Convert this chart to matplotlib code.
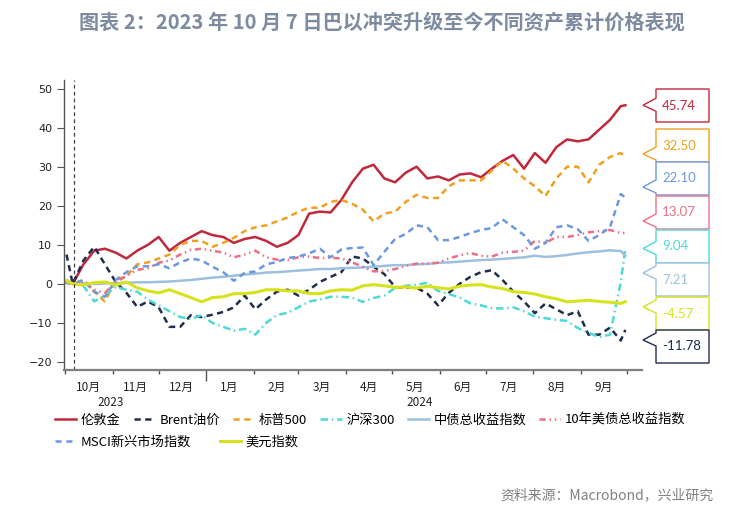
import matplotlib
matplotlib.use('Agg')
import matplotlib.pyplot as plt
import matplotlib.dates as mdates
from matplotlib.patches import Polygon
from matplotlib.transforms import IdentityTransform, blended_transform_factory
import pandas as pd

plt.rcParams['font.family'] = ['Noto Sans CJK SC', 'DejaVu Sans']

# weekly readings, cumulative % change since 2023-10-06
dates = pd.to_datetime([
    '2023-10-02', '2023-10-06', '2023-10-13', '2023-10-20', '2023-10-27',
    '2023-11-03', '2023-11-10', '2023-11-17', '2023-11-24',
    '2023-12-01', '2023-12-08', '2023-12-15', '2023-12-22', '2023-12-29',
    '2024-01-05', '2024-01-12', '2024-01-19', '2024-01-26',
    '2024-02-02', '2024-02-09', '2024-02-16', '2024-02-23',
    '2024-03-01', '2024-03-08', '2024-03-15', '2024-03-22', '2024-03-29',
    '2024-04-05', '2024-04-12', '2024-04-19', '2024-04-26',
    '2024-05-03', '2024-05-10', '2024-05-17', '2024-05-24', '2024-05-31',
    '2024-06-07', '2024-06-14', '2024-06-21', '2024-06-28',
    '2024-07-05', '2024-07-12', '2024-07-19', '2024-07-26',
    '2024-08-02', '2024-08-09', '2024-08-16', '2024-08-23', '2024-08-30',
    '2024-09-06', '2024-09-13', '2024-09-20', '2024-09-27', '2024-09-30'])

gold = [0.3, 0, 5, 8.5, 9, 8, 6.5, 8.5, 10, 12, 8.5, 10.5, 12, 13.5,
        12.5, 12, 10.5, 11.5, 12, 11, 9.5, 10.5, 12.5, 18, 18.5, 18.3, 21.5,
        26, 29.5, 30.5, 27, 26, 28.5, 30, 27, 27.5, 26.5, 28, 28.3, 27.3,
        29.5, 31.5, 33, 29.5, 33.5, 31, 35, 37, 36.5, 37, 39.5, 42, 45.5, 45.74]
brent = [7.5, 0, 6, 9.5, 5, 0.5, -2.3, -5.9, -4.5, -6, -11, -11, -8, -8.5,
         -7.9, -7.2, -6, -3, -6.5, -4, -2, -1.5, -3, -1.5, 0.5, 1.8, 3,
         7, 6.5, 4.4, 2.5, -0.8, -1, -1, -2.5, -5.5, -2.3, 0, 1.8, 3,
         3.5, 1, -2, -4.5, -7.5, -5, -6.5, -8, -7, -13, -13, -11.2, -14.5, -11.78]
spx = [1, 0, 1, -2, -4.5, 1, 2, 5, 5.5, 6.5, 7.5, 10, 11, 11,
       9.5, 10.5, 11.8, 13.5, 14.5, 15, 16, 17, 18.5, 19.5, 19.5, 21, 21.5,
       20.5, 19, 16, 18, 18.5, 21, 22.8, 22, 22, 25, 26.5, 26.5, 26.5,
       29, 31.5, 29.5, 27, 25, 22.5, 27, 30, 30, 26, 30.5, 32.5, 33.5, 32.50]
csi300 = [0.5, 0, -0.5, -4.5, -3, -0.8, -1.5, -2, -4, -5.5, -7, -8.5, -9, -8,
          -10, -11, -12, -11.5, -13, -10, -8, -7.4, -6, -4.5, -4, -3.3, -3.3,
          -3.5, -4.6, -3.6, -3, -1, -0.5, -0.2, 0.3, -1.8, -2.6, -3.5, -5, -5.5,
          -6.2, -6.3, -6, -7, -8.4, -8.8, -9.2, -9.5, -11.3, -12.5, -13.6, -13, 0.5, 9.04]
cgb = [0.2, 0, 0.1, 0, 0.1, 0.2, 0.3, 0.4, 0.4, 0.5, 0.6, 0.8, 1, 1.3,
       1.6, 1.8, 2.1, 2.4, 2.6, 2.9, 3, 3.2, 3.4, 3.6, 3.8, 3.8, 4,
       4.1, 4.2, 4.4, 4.6, 4.8, 4.8, 5, 5.1, 5.4, 5.5, 5.7, 5.9, 6.1,
       6.2, 6.4, 6.6, 6.8, 7.2, 6.9, 7.1, 7.4, 7.8, 8.1, 8.3, 8.6, 8.4, 7.21]
ust10 = [0.3, 0, 0.5, -1.5, -2.3, 0.5, 2, 3.6, 4, 5.4, 6, 7.5, 8.7, 9,
         8.5, 8, 6.8, 7.5, 8.5, 6.8, 6.2, 6.1, 6.8, 7, 6.6, 6.7, 6.5,
         5.5, 4.4, 3.2, 3.3, 3.8, 4.6, 5.2, 5.2, 5.4, 6.5, 7.3, 7.9, 7.2,
         7, 8, 8.2, 8.5, 11, 10.5, 12, 12, 12.5, 13.2, 13.5, 13.8, 13, 13.07]
msci = [0.5, 0, 1, -2, -3.3, 1, 3, 4.5, 4.5, 5, 4, 5.5, 6.5, 6,
        4.4, 3, 0.8, 2.8, 3.2, 5, 5.6, 6.6, 7, 7.8, 9, 6.8, 8.8,
        9.2, 9.3, 4.8, 8.2, 11.5, 12.8, 15, 14.5, 11.2, 11.2, 12, 13, 13.8,
        14.3, 16.5, 14.5, 12.5, 9, 10.5, 14.5, 15, 14, 11, 12.5, 14.5, 23, 22.10]
dxy = [0.8, 0, -0.3, 0.3, 0.5, -0.3, 0.5, -1, -1.8, -2.3, -1.5, -2.5, -3.5, -4.6,
       -3.5, -3.3, -2.5, -2.5, -2.2, -1.5, -1.5, -1.8, -1.8, -2.5, -2.5, -1.8, -1.5,
       -1.6, -0.5, -0.2, -0.5, -0.9, -0.8, -1.1, -0.6, -1, -1.3, -0.6, -0.3, -0.2,
       -0.8, -1.2, -2, -2.2, -2.6, -3.3, -3.8, -4.6, -4.4, -4.2, -4.5, -4.7, -5, -4.57]

names = ['伦敦金', 'Brent油价', '标普500', '沪深300', '中债总收益指数',
         '10年美债总收益指数', 'MSCI新兴市场指数', '美元指数']
series = [gold, brent, spx, csi300, cgb, ust10, msci, dxy]
colors = ['#C0283C', '#1F2D4F', '#F0A01E', '#4FD8D8', '#9DC0DF',
          '#EC6F86', '#6C98E0', '#D6E21C']
dash_styles = [None, (2.5, 1.8), (2.5, 1.8), (3, 1.5, 0.6, 1.5), None,
               (2.5, 1.5, 0.6, 1.5, 0.6, 1.5), (2.5, 1.8), None]
widths = [1.8, 1.8, 1.8, 1.8, 1.8, 1.8, 1.8, 2.2]

# right-hand value boxes, top to bottom
box_order = [0, 2, 6, 5, 3, 4, 7, 1]
box_tops = [89, 129, 162, 196, 230, 263, 297, 330]

W, H = 738, 513
fig = plt.figure(figsize=(W / 100, H / 100), dpi=100)
ax = fig.add_axes([64 / W, 1 - 370 / H, (642 - 64) / W, (370 - 80) / H])

lines = []
for s, name, c, d, lw in zip(series, names, colors, dash_styles, widths):
    ln, = ax.plot(dates, s, color=c, lw=lw, label=name)
    if d is not None:
        ln.set_dashes(d)
    lines.append(ln)

# vertical marker at 2023-10-07
ax.axvline(pd.Timestamp('2023-10-07'), color='#404040', lw=0.9, ls=(0, (3, 2.5)))

ax.set_ylim(-22.05, 52.2)
ax.set_xlim(pd.Timestamp('2023-09-30 08:00'), pd.Timestamp('2024-10-10 20:00'))
ax.set_yticks([-20, -10, 0, 10, 20, 30, 40, 50])
ax.tick_params(axis='y', direction='out', length=5, width=0.8, colors='#555555',
               labelcolor='#222222', labelsize=8)
for lbl in ax.get_yticklabels():
    lbl.set_family('DejaVu Sans')

for side in ['top', 'right']:
    ax.spines[side].set_visible(False)
ax.spines['left'].set_color('#555555')
ax.spines['left'].set_linewidth(1.0)
ax.spines['bottom'].set_color('#7f7f7f')
ax.spines['bottom'].set_linewidth(1.6)

# month boundaries as ticks, month names at mid-month
month_starts = pd.date_range('2023-10-01', '2024-10-01', freq='MS')
ax.set_xticks(month_starts)
ax.set_xticklabels([''] * len(month_starts))
mid = [m + pd.Timedelta(days=15) for m in month_starts[:-1]]
ax.set_xticks(mid, minor=True)
ax.set_xticklabels([f'{m.month}月' for m in month_starts[:-1]], minor=True)
ax.tick_params(axis='x', which='major', direction='out', length=3, width=1, colors='#555555')
ax.tick_params(axis='x', which='minor', length=0, labelsize=8.5, pad=8, labelcolor='#222222')
year_idx = list(month_starts).index(pd.Timestamp('2024-01-01'))
ax.xaxis.get_major_ticks()[year_idx].tick1line.set_markersize(8)

trans = blended_transform_factory(ax.transData, fig.transFigure)
ax.text(pd.Timestamp('2023-10-31'), 1 - 403 / H, '2023', transform=trans,
        ha='center', va='center', fontsize=8.5, color='#222222')
ax.text(pd.Timestamp('2024-05-19'), 1 - 403 / H, '2024', transform=trans,
        ha='center', va='center', fontsize=8.5, color='#222222')

# legend in two rows
leg_kw = dict(loc='upper left', bbox_transform=fig.transFigure, frameon=False,
              handlelength=1.6, handletextpad=0.35,
              borderaxespad=0, borderpad=0, fontsize=9.5)
leg1 = ax.legend(lines[:6], names[:6], ncol=6, columnspacing=1.0,
                 bbox_to_anchor=(55 / W, 1 - 414 / H), **leg_kw)
ax.add_artist(leg1)
ax.legend(lines[6:], names[6:], ncol=2, columnspacing=2.2,
          bbox_to_anchor=(55 / W, 1 - 436 / H), **leg_kw)

# value boxes with pointers
for i, top in zip(box_order, box_tops):
    bottom = top + 33
    last_y = ax.transData.transform((mdates.date2num(dates[-1]), series[i][-1]))[1]
    tip = min(max(H - last_y, top + 10), bottom - 8)
    pts = [(656, top), (709, top), (709, bottom), (656, bottom),
           (656, tip + 6), (643, tip), (656, tip - 7)]
    pts = [(x, H - y) for x, y in pts]
    fig.add_artist(Polygon(pts, closed=True, facecolor='white', edgecolor=colors[i],
                           lw=1.0, transform=IdentityTransform()))
    fig.text(662 / W, 1 - (top + 16.5) / H, f'{series[i][-1]:.2f}', color=colors[i],
             fontsize=9.5, family='Lato', ha='left', va='center')

fig.text(382 / W, 1 - 22 / H, '图表 2：2023 年 10 月 7 日巴以冲突升级至今不同资产累计价格表现',
         ha='center', va='center', fontsize=14.5, fontweight='bold', color='#7D8BA0')
fig.text(713 / W, 1 - 495 / H, '资料来源：Macrobond，兴业研究', ha='right', va='center',
         fontsize=10, color='#808080')

fig.savefig('out.png', dpi=100)
